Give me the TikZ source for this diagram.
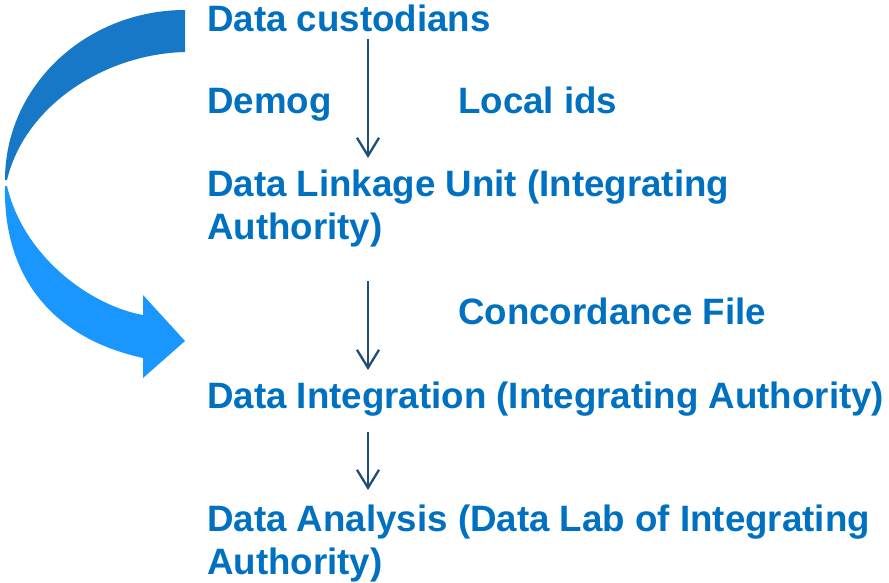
\documentclass[tikz,border=0pt]{standalone}
\usepackage{fontspec}
\setmainfont{Liberation Sans}
\usetikzlibrary{arrows.meta}
\definecolor{txtblue}{HTML}{0070C0}
\definecolor{linenavy}{HTML}{1F4E79}
\definecolor{darkarc}{HTML}{1878C8}
\definecolor{lightarc}{HTML}{1A96FF}
\tikzset{
  lbl/.style={anchor=base west, inner sep=0pt, text=txtblue,
    font=\fontsize{36.7}{43}\selectfont\bfseries},
  flow/.style={draw=linenavy, line width=2.3pt,
    -{Straight Barb[length=18pt,width=22pt,line width=2.3pt]}}
}
\begin{document}
\begin{tikzpicture}[x=1pt,y=-1pt]
\useasboundingbox (0,0) rectangle (889,582);
% curved block arrow
\fill[darkarc] (185,10) .. controls (86,10) and (5,86) .. (5,180)
  -- (7,180) .. controls (25,105) and (105,54) .. (185,52) -- cycle;
\fill[lightarc] (5,186) .. controls (3,272) and (48,337) .. (143,358)
  -- (143,378) -- (185,341) -- (143,295) -- (143,315)
  .. controls (92,306) and (24,258) .. (7,186) -- cycle;
% texts
\node[lbl] (cust) at (207,31) {Data custodians};
\node[lbl] (demog) at (207,113) {Demog};
\node[lbl] (local) at (458,113) {Local ids};
\node[lbl] (dlu) at (207,196) {Data Linkage Unit (Integrating};
\node[lbl] (dlub) at (207,239) {Authority)};
\node[lbl] (conc) at (458,324) {Concordance File};
\node[lbl] (dint) at (207,408) {Data Integration (Integrating Authority)};
\node[lbl] (dana) at (207,531) {Data Analysis (Data Lab of Integrating};
\node[lbl] (danb) at (207,574) {Authority)};
% connectors
\coordinate (a1s) at (368,39);
\coordinate (a1e) at (368,158);
\coordinate (a2s) at (368,281);
\coordinate (a2e) at (368,370);
\coordinate (a3s) at (368,432);
\coordinate (a3e) at (368,490);
\draw[flow] (a1s) -- (a1e);
\draw[flow] (a2s) -- (a2e);
\draw[flow] (a3s) -- (a3e);
\end{tikzpicture}
\end{document}
